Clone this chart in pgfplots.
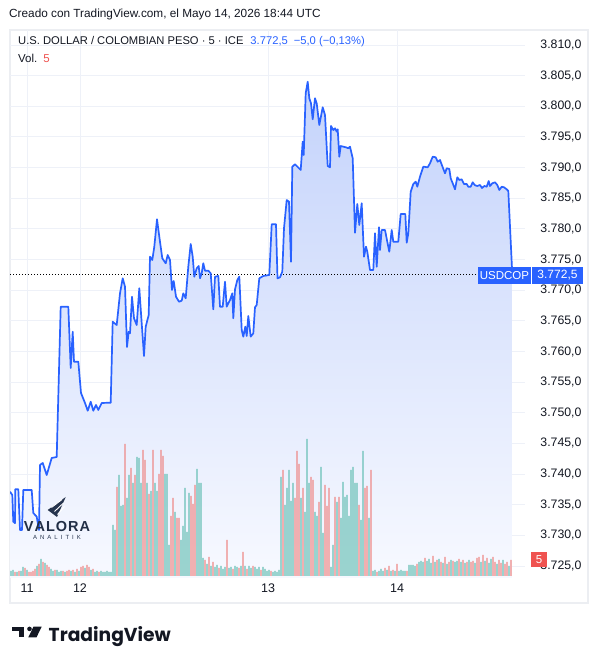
\documentclass[border=0pt]{standalone}
\usepackage{fontspec}
\setmainfont{Liberation Sans}
\newfontfamily\tvfont{Poppins}
\usepackage{pgfplots}
\pgfplotsset{compat=1.18}
\usepackage{pgfplotstable}

\definecolor{tvblue}{RGB}{41,98,255}
\definecolor{gridc}{RGB}{238,241,248}
\definecolor{vgreen}{RGB}{105,192,182}
\definecolor{vred}{RGB}{238,138,136}
\definecolor{txt}{RGB}{19,23,34}
\definecolor{framec}{RGB}{236,238,242}
\definecolor{tvred}{RGB}{239,83,80}
\definecolor{navy}{RGB}{38,52,78}

\pgfplotstableread{
x y
10 3737.13
12.3 3736.59
13.3 3732.24
15 3732.0
15.3 3737.52
18.3 3737.52
20 3730.88
22 3730.88
23.3 3737.41
31.7 3737.41
33.3 3733.66
36.7 3733.05
39 3730.88
40 3741.49
42.7 3741.81
46.7 3739.85
51.7 3742.63
56.7 3742.79
60.7 3767.31
68.3 3767.31
70.7 3757.31
72.7 3763.23
74 3758.34
78.3 3758.34
81 3753.23
85 3751.60
87.7 3750.34
90.7 3751.81
93.3 3750.34
96 3751.27
98.3 3750.46
101.7 3751.60
110.7 3751.65
112.7 3764.86
116.7 3764.32
120 3769.49
122.7 3771.94
125 3770.57
127 3760.73
128.7 3763.23
130 3762.97
132 3768.94
134 3765.42
136.7 3764.32
139.3 3770.31
141.7 3764.60
144 3759.27
145.7 3764.05
148.7 3765.95
150 3775.47
152.3 3774.93
154.3 3777.10
157 3781.57
159.3 3778.73
162.3 3775.20
165.7 3774.39
167.7 3775.74
170 3774.93
172 3770.03
173.7 3771.50
176 3768.94
179 3768.12
181.7 3768.29
183.3 3769.49
185.7 3768.68
188.3 3773.83
190.7 3777.54
192.7 3775.47
194.3 3772.20
196.7 3773.57
198.7 3773.95
200 3771.94
201.7 3772.76
203.3 3774.39
205 3773.18
208.3 3773.18
210.7 3772.76
213.3 3766.88
215 3772.20
218.3 3772.32
220 3767.31
222.7 3767.31
225 3771.39
226.7 3767.31
230 3768.40
232.3 3769.49
233.3 3765.42
235 3770.15
237.3 3771.66
239.3 3772.20
241.7 3763.51
243.3 3762.42
245.3 3764.05
246.7 3762.53
248.3 3765.79
250.7 3762.42
253.3 3762.97
255 3767.21
256.7 3767.59
259.3 3771.94
263.3 3772.32
269.3 3772.48
271.7 3780.75
276 3780.75
277.5 3771.94
280 3772.10
282.3 3773.02
284 3780.10
286.7 3784.71
289 3784.44
291 3774.65
292.3 3790.15
295 3790.54
300.7 3789.61
302.7 3794.23
303.7 3792.06
305.7 3802.12
307.7 3804.01
309.3 3801.31
311 3800.49
312.7 3797.88
315 3801.31
316.7 3800.49
319.3 3796.95
322.7 3799.84
325 3798.58
327.7 3790.26
330 3790.05
331 3796.79
333.3 3796.13
335 3796.41
336.7 3795.86
337.7 3796.25
339.3 3791.78
340.7 3793.52
346 3793.31
348.3 3793.15
350 3793.41
352.7 3791.52
355 3779.38
357.3 3784.06
359.3 3780.64
361.7 3784.18
364 3775.47
366 3777.10
367.3 3776.28
370 3773.30
373.3 3773.30
375 3779.28
376.7 3773.83
379 3780.26
380 3776.56
381.7 3779.82
385 3779.82
387.3 3777.91
389.3 3776.28
391.7 3779.82
393.3 3777.91
398.3 3777.91
400.7 3782.43
405.3 3782.43
406.7 3777.75
408.3 3779.28
410.7 3786.07
413.3 3787.32
415.7 3787.70
417.3 3786.88
420 3788.52
423.3 3790.15
427.7 3790.05
430 3790.70
432.7 3791.78
435.7 3791.68
437.7 3790.96
440 3791.24
442.7 3790.05
445 3789.07
446.7 3789.89
449.3 3789.77
450.7 3788.25
452.7 3787.44
455 3786.46
457.3 3788.42
459.3 3787.98
461.7 3788.09
464 3787.32
466.7 3787.32
468.3 3786.88
470.7 3786.88
472.7 3787.60
475 3787.11
477.3 3787.00
480 3787.16
482 3786.67
484.3 3787.00
486.7 3786.88
488.7 3787.81
490 3787.00
492.3 3787.44
495 3787.60
497.3 3787.16
499.3 3786.35
501.7 3786.88
504 3786.79
506.7 3786.46
508.3 3786.18
512.3 3772.50
}\price

\pgfplotstableread{
x v
11 5
13 6
17 4
21 5
23 9
27 6
37 10
41 17
45 13
51 7
53 5
57 6
59 4
61 5
65 4
71 5
75 4
79 5
85 8
91 6
95 4
97 5
101 5
103 4
105 4
107 5
109 4
111 4
113 51
115 46
119 101
121 70
123 71
127 78
129 101
133 93
137 119
139 118
141 93
147 93
151 85
155 93
157 85
165 102
167 102
169 31
175 64
181 36
183 50
185 88
187 44
189 83
197 107
199 93
201 93
203 18
207 12
211 10
215 9
217 11
221 10
223 7
225 9
229 8
231 9
235 10
237 9
241 10
245 10
249 10
251 8
255 9
257 7
259 9
263 9
265 7
267 5
269 6
273 4
275 5
277 4
279 6
281 99
285 71
287 88
289 106
291 75
293 93
301 78
305 64
307 137
309 93
315 64
317 60
321 109
323 43
331 9
333 31
337 74
341 58
343 94
345 79
347 81
349 60
351 106
353 109
355 93
357 93
361 56
363 125
369 58
373 5
375 6
379 5
381 7
383 5
387 6
391 5
395 5
399 5
401 6
403 5
405 5
409 11
411 11
413 11
415 10
419 14
421 15
423 14
427 15
429 17
431 13
435 14
439 17
443 13
447 12
451 16
455 14
457 15
461 14
465 13
469 16
475 13
481 14
485 15
489 13
491 17
497 12
503 16
509 10
}\volg

\pgfplotstableread{
x v
15 4
19 5
25 8
29 4
31 4
33 5
35 7
39 12
43 14
47 11
49 9
55 6
63 5
67 5
69 6
73 6
77 7
81 9
83 10
87 11
89 9
93 7
99 4
117 89
125 132
131 108
135 101
143 126
145 116
149 82
153 126
159 102
161 126
163 120
171 60
173 78
177 58
179 58
191 80
193 72
195 91
205 16
209 19
213 14
219 8
227 36
233 7
239 8
243 24
247 7
253 10
261 6
271 5
283 106
295 78
297 125
299 112
303 88
311 99
313 96
319 74
325 91
327 70
329 88
335 79
339 79
359 71
365 88
367 90
371 106
377 4
385 8
389 10
393 6
397 12
407 5
417 12
425 18
433 20
437 16
441 14
445 19
449 14
453 15
459 17
463 16
467 14
471 14
473 15
477 18
479 19
483 21
487 18
493 19
495 14
499 16
501 13
505 12
507 14
511 16
}\volr

\begin{document}
\begin{tikzpicture}[x=1pt,y=1pt]
\useasboundingbox (0,0) rectangle (598,664);
\fill[white] (0,0) rectangle (598,664);
\draw[framec, line width=1.5pt] (10,634) rectangle (588,61);

% price axis: grid, fill, ticks
\begin{axis}[at={(10pt,86pt)}, anchor=south west, scale only axis,
  width=515pt, height=548pt,
  xmin=10, xmax=525, ymin=3723.05, ymax=3812.45,
  axis line style={draw=none}, tick style={draw=none},
  xtick={27,80,268,397}, xticklabels={11,12,13,14},
  ytick={3725,3730,...,3810},
  xmajorgrids, ymajorgrids,
  major grid style={gridc, line width=1pt},
  yticklabel pos=right,
  yticklabel style={anchor=east, xshift=60pt, font=\fontsize{12.3}{14}\selectfont, text=txt},
  xticklabel style={font=\fontsize{12.5}{14}\selectfont, text=txt, yshift=-2pt},
  /pgf/number format/.cd, fixed, fixed zerofill, precision=1, use comma, assume math mode=true
]
\addplot[draw=none, top color={rgb,255:red,196;green,211;blue,251}, bottom color={rgb,255:red,247;green,249;blue,255}]
  table[x=x,y=y] {\price} -- (axis cs:512.3,3723.05) -- (axis cs:10,3723.05) -- cycle;
\end{axis}

% volume axis
\begin{axis}[at={(10pt,86pt)}, anchor=south west, scale only axis,
  width=515pt, height=548pt,
  xmin=10, xmax=525, ymin=-2, ymax=546, hide axis,
  ybar, bar width=1.1pt, bar shift=0pt]
\addplot[fill=vgreen, draw=none] table[x=x,y=v] {\volg};
\addplot[fill=vred, draw=none] table[x=x,y=v] {\volr};
\end{axis}

% price line
\begin{axis}[at={(10pt,86pt)}, anchor=south west, scale only axis,
  width=515pt, height=548pt,
  xmin=10, xmax=525, ymin=3723.05, ymax=3812.45, hide axis]
\draw[black, line width=0.8pt, dash pattern=on 0.8pt off 2.2pt] (axis cs:10,3772.5) -- (axis cs:478,3772.5);
\addplot[tvblue, line width=1.7pt, mark=none, line join=round] table[x=x,y=y] {\price};
\end{axis}

% header texts
\node[anchor=west, inner sep=0, text=txt, font=\fontsize{11.8}{14}\selectfont] at (9,650) {Creado con TradingView.com, el Mayo 14, 2026 18:44 UTC};
\node[anchor=west, inner sep=0, text=txt, font=\fontsize{11.2}{14}\selectfont] at (18,622) {U.S. DOLLAR / COLOMBIAN PESO · 5 · ICE\hspace{7pt}\textcolor{tvblue}{3.772,5\hspace{6pt}−5,0 (−0,13\%)}};
\node[anchor=west, inner sep=0, text=txt, font=\fontsize{11.5}{14}\selectfont] at (18,606) {Vol.\hspace{6pt}\textcolor{tvred}{5}};

% last price labels
\node[fill=tvblue, text=white, minimum width=53pt, minimum height=17pt, inner sep=0, font=\fontsize{11.5}{13}\selectfont] at (504.5,388.5) {USDCOP};
\node[fill=tvblue, text=white, minimum width=51pt, minimum height=17pt, inner sep=0, font=\fontsize{12}{13}\selectfont] at (557.5,388.5) {3.772,5};
\node[fill=tvred, text=white, minimum width=16pt, minimum height=15pt, inner sep=0, font=\fontsize{11.5}{13}\selectfont] at (539,104) {5};

% Valora Analitik watermark
\fill[navy] (65.7,167) -- (47.7,154) -- (57,147) -- cycle;
\draw[white, line width=0.9pt] (51.5,156.5) -- (62,164.5);
\draw[white, line width=0.9pt] (54.5,152.5) -- (63.5,161);
\draw[white, line width=0.9pt] (57.5,149.5) -- (64.5,157.5);
\node[anchor=center, inner sep=0, text=navy!90!black, font=\bfseries\fontsize{14.5}{16}\selectfont] at (57,137) {V\hspace{1pt}A\hspace{1pt}L\hspace{1pt}O\hspace{1pt}R\hspace{1pt}A};
\node[anchor=center, inner sep=0, text=navy, font=\fontsize{6}{7}\selectfont] at (57,127) {A\hspace{3pt}N\hspace{3pt}A\hspace{3pt}L\hspace{3pt}I\hspace{3pt}T\hspace{3pt}I\hspace{3pt}K};

% TradingView logo
\fill[txt] (12.3,37.3) rectangle (24,32.5);
\fill[txt] (18.5,37.3) rectangle (24,26.7);
\fill[txt] (29.5,35.1) circle (2.3);
\fill[txt] (33.5,37.3) -- (41.7,37.3) -- (36.5,26.7) -- (28.3,26.7) -- cycle;
\node[anchor=base west, inner sep=0, text=txt, font=\tvfont\bfseries\fontsize{18.7}{22}\selectfont] at (48.5,23) {TradingView};
\end{tikzpicture}
\end{document}
